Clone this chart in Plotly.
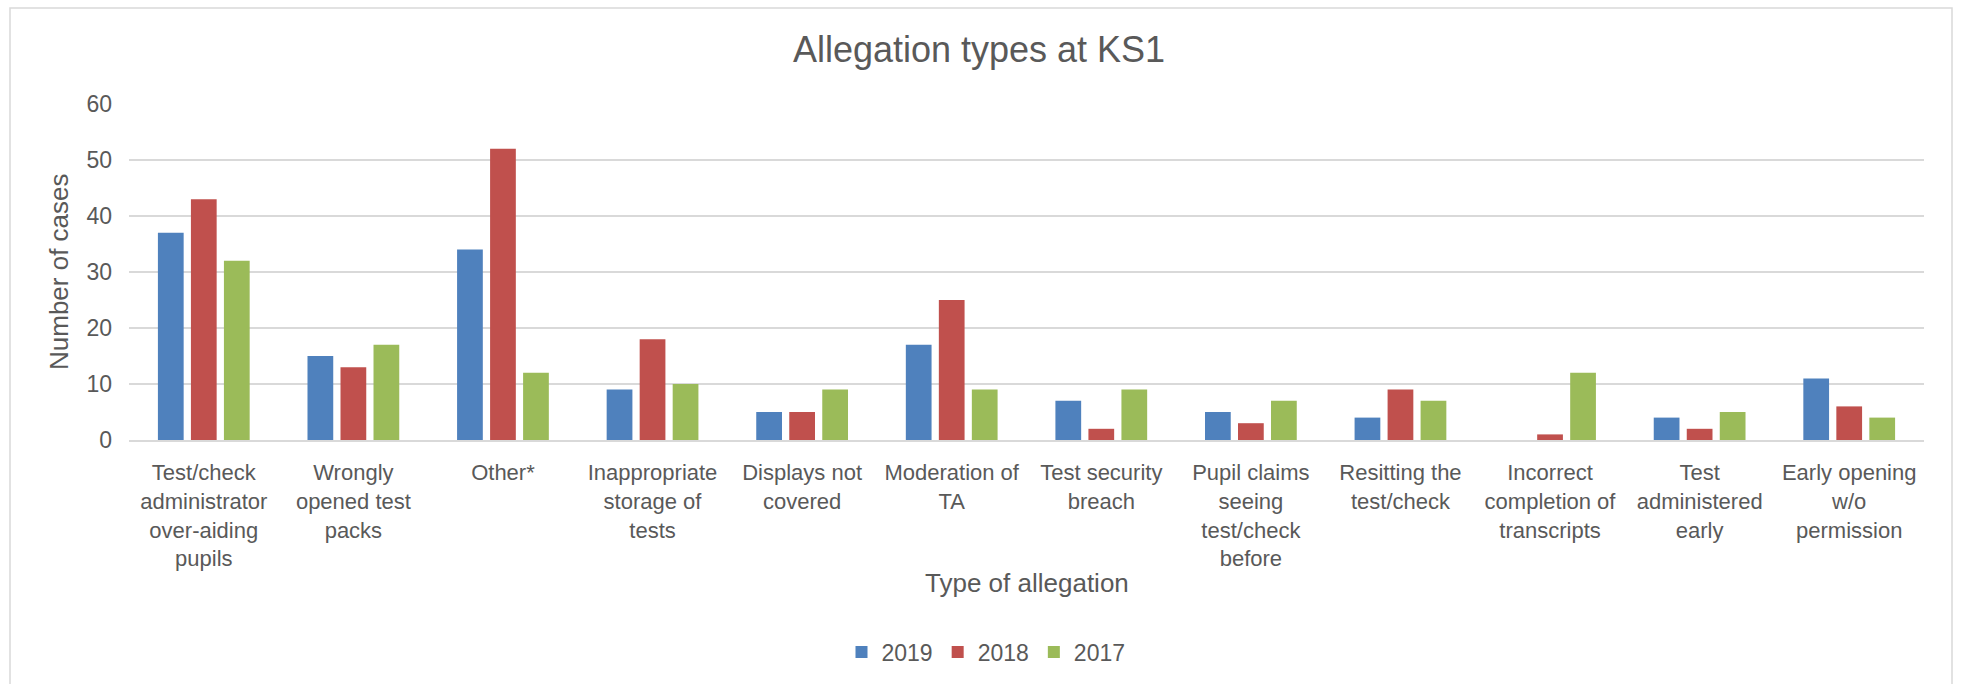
import plotly.graph_objects as go

categories = [
    "Test/check<br>administrator<br>over-aiding<br>pupils",
    "Wrongly<br>opened test<br>packs",
    "Other*",
    "Inappropriate<br>storage of<br>tests",
    "Displays not<br>covered",
    "Moderation of<br>TA",
    "Test security<br>breach",
    "Pupil claims<br>seeing<br>test/check<br>before",
    "Resitting the<br>test/check",
    "Incorrect<br>completion of<br>transcripts",
    "Test<br>administered<br>early",
    "Early opening<br>w/o<br>permission",
]
cases_2019 = [37, 15, 34, 9, 5, 17, 7, 5, 4, None, 4, 11]
cases_2018 = [43, 13, 52, 18, 5, 25, 2, 3, 9, 1, 2, 6]
cases_2017 = [32, 17, 12, 10, 9, 9, 9, 7, 7, 12, 5, 4]
series_names = ["2019", "2018", "2017"]
series_colors = ["#4F81BD", "#C0504D", "#9BBB59"]
y_ticks = [0, 10, 20, 30, 40, 50, 60]

FONT = "Liberation Sans, Arial, sans-serif"
TXT = "#595959"
W, H = 1961, 684
L, R, T, B = 129, 37, 104, 244
PW, PH = W - L - R, H - T - B

fig = go.Figure()
for name, vals, col in zip(series_names, [cases_2019, cases_2018, cases_2017], series_colors):
    fig.add_trace(go.Bar(x=categories, y=vals, name=name, marker=dict(color=col, line=dict(width=0))))

def px_x(p):
    return (p - L) / PW

def px_y(p):
    return (H - B - p) / PH

fig.update_layout(
    width=W, height=H,
    margin=dict(l=L, r=R, t=T, b=B, autoexpand=False),
    paper_bgcolor="white", plot_bgcolor="white",
    barmode="group", bargap=0.338, bargroupgap=0.22,
    font=dict(family=FONT, color=TXT, size=23),
    title=dict(text="Allegation types at KS1", x=979 / W, xanchor="center",
               y=1 - 49 / H, yanchor="middle", xref="container", yref="container",
               font=dict(size=36, color=TXT, family=FONT)),
    legend=dict(orientation="h", xref="container", yref="container",
                x=986 / W, xanchor="center", y=1 - 652 / H, yanchor="middle",
                font=dict(size=23, color=TXT, family=FONT), itemwidth=30,
                traceorder="normal", bgcolor="rgba(0,0,0,0)"),
    showlegend=True,
)
fig.update_xaxes(
    tickfont=dict(size=22, color=TXT, family=FONT), tickangle=0,
    showline=True, linecolor="#D9D9D9", linewidth=2,
    showgrid=False, ticks="", ticklabelstandoff=12, automargin=False,
)
fig.update_yaxes(
    range=[0, 60], tickvals=y_ticks, tickfont=dict(size=23, color=TXT, family=FONT),
    showgrid=True, gridcolor="#D9D9D9", gridwidth=1.5, zeroline=False,
    showline=False, ticks="", ticklabelstandoff=16, automargin=False,
)
fig.add_annotation(text="Number of cases", textangle=-90, xref="paper", yref="paper",
                   x=px_x(59), y=0.5, xanchor="center", yanchor="middle", showarrow=False,
                   font=dict(size=26, color=TXT, family=FONT))
fig.add_annotation(text="Type of allegation", xref="paper", yref="paper",
                   x=0.5, y=px_y(583), xanchor="center", yanchor="middle", showarrow=False,
                   font=dict(size=26, color=TXT, family=FONT))
fig.add_shape(type="rect", xref="paper", yref="paper",
              x0=px_x(10), x1=px_x(1952), y0=px_y(720), y1=px_y(8),
              line=dict(color="#D9D9D9", width=1.5), fillcolor="rgba(0,0,0,0)", layer="below")

fig.write_html("out.html", config={"displayModeBar": False},
               post_script="document.body.style.margin='0';document.body.style.overflow='hidden';")
